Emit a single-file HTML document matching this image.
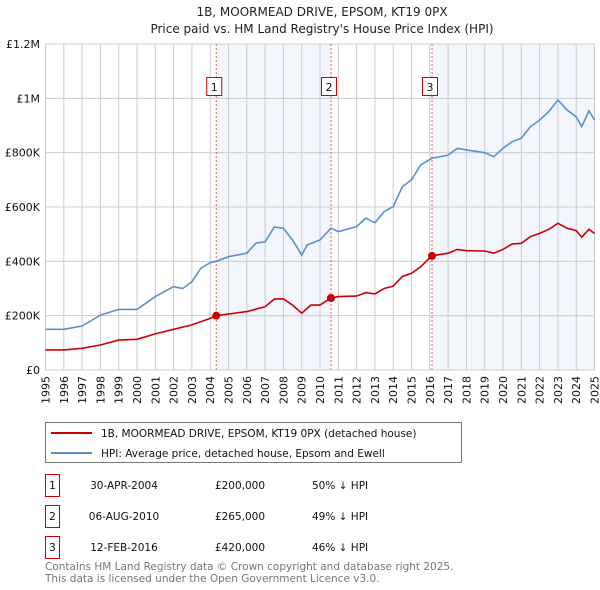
<!DOCTYPE html>
<html><head><meta charset="utf-8"><style>
body{margin:0;background:#fff;font-family:"Liberation Sans","DejaVu Sans",sans-serif}
svg{display:block}
</style></head><body>
<svg width="600" height="590" xmlns="http://www.w3.org/2000/svg" font-family="DejaVu Sans, Liberation Sans, sans-serif">
<text x="322" y="16" text-anchor="middle" font-size="12" fill="#222">1B, MOORMEAD DRIVE, EPSOM, KT19 0PX</text>
<text x="322" y="33" text-anchor="middle" font-size="12" fill="#222">Price paid vs. HM Land Registry's House Price Index (HPI)</text>
<g id="plot"></g>
<g>
<rect x="45.5" y="422.5" width="416" height="40" fill="#fff" stroke="#777"/>
<line x1="51" y1="433" x2="92" y2="433" stroke="#cc0000" stroke-width="2"/>
<text x="101" y="437" font-size="10.5" fill="#111">1B, MOORMEAD DRIVE, EPSOM, KT19 0PX (detached house)</text>
<line x1="51" y1="453" x2="92" y2="453" stroke="#5b8fd0" stroke-width="2"/>
<text x="101" y="457" font-size="10.5" fill="#111">HPI: Average price, detached house, Epsom and Ewell</text>
</g>
<g font-size="10.5" fill="#111">
<rect x="45.5" y="474.5" width="14" height="22" fill="#fff" stroke="#cc0000"/>
<text x="52.5" y="489" text-anchor="middle">1</text>
<text x="124" y="489" text-anchor="middle">30-APR-2004</text>
<text x="240" y="489" text-anchor="middle">£200,000</text>
<text x="312" y="489">50% ↓ HPI</text>
<rect x="45.5" y="505.5" width="14" height="22" fill="#fff" stroke="#cc0000"/>
<text x="52.5" y="520" text-anchor="middle">2</text>
<text x="124" y="520" text-anchor="middle">06-AUG-2010</text>
<text x="240" y="520" text-anchor="middle">£265,000</text>
<text x="312" y="520">49% ↓ HPI</text>
<rect x="45.5" y="536.5" width="14" height="22" fill="#fff" stroke="#cc0000"/>
<text x="52.5" y="551" text-anchor="middle">3</text>
<text x="124" y="551" text-anchor="middle">12-FEB-2016</text>
<text x="240" y="551" text-anchor="middle">£420,000</text>
<text x="312" y="551">46% ↓ HPI</text>
</g>
<text x="45" y="570" font-size="10.5" fill="#777">Contains HM Land Registry data © Crown copyright and database right 2025.</text>
<text x="45" y="582" font-size="10.5" fill="#777">This data is licensed under the Open Government Licence v3.0.</text>
</svg>
<script>
const hpiYears=[1995,1996,1997,1998,1999,2000,2001,2002,2002.5,2003,2003.5,2004,2004.33,2005,2006,2006.5,2007,2007.5,2008,2008.5,2009,2009.3,2010,2010.6,2011,2012,2012.5,2013,2013.5,2014,2014.5,2015,2015.5,2016.1,2017,2017.5,2018,2019,2019.5,2020,2020.5,2021,2021.5,2022,2022.5,2023,2023.5,2024,2024.3,2024.7,2025];
const hpiValues=[150,150,162,202,223,223,270,307,300,325,375,395,400,417,430,467,472,526,522,478,423,460,479,522,509,528,559,542,583,601,675,700,755,779,791,816,810,800,785,816,840,853,896,920,951,994,957,932,896,954,920];
const redYears=[1995,1996,1997,1998,1999,2000,2001,2002,2003,2004,2004.33,2005,2006,2007,2007.5,2008,2008.5,2009,2009.5,2010,2010.6,2011,2012,2012.5,2013,2013.5,2014,2014.5,2015,2015.5,2016.1,2017,2017.5,2018,2019,2019.5,2020,2020.5,2021,2021.5,2022,2022.5,2023,2023.5,2024,2024.3,2024.7,2025];
const redValues=[74,74,80,92,110,113,133,150,166,190,200,206,215,233,261,262,239,209,239,239,265,270,272,285,280,300,309,344,356,380,420,430,444,439,438,430,444,464,466,491,503,518,540,522,513,489,518,503];
const saleYears=[2004.33,2010.6,2016.12];
const saleValues=[200,265,420];
const saleLabels=["1","2","3"];
const yTicks=[0,200,400,600,800,1000,1200];
const yTickLabels=["£0","£200K","£400K","£600K","£800K","£1M","£1.2M"];
const xTicks=[1995,1996,1997,1998,1999,2000,2001,2002,2003,2004,2005,2006,2007,2008,2009,2010,2011,2012,2013,2014,2015,2016,2017,2018,2019,2020,2021,2022,2023,2024,2025];

const L=45.5,R=594.5,T=44,B=370;
const X=y=>L+(y-1995)/30*(R-L);
const Y=v=>B-v/1200*(B-T);
const NS="http://www.w3.org/2000/svg";
const g=document.getElementById('plot');
function mk(t,a,p){const e=document.createElementNS(NS,t);for(const k in a)e.setAttribute(k,a[k]);(p||g).appendChild(e);return e;}
let s1=mk('rect',{x:X(saleYears[0]),y:T,width:X(saleYears[1])-X(saleYears[0]),height:B-T,fill:'#f3f6fd'});


let s2=mk('rect',{x:X(saleYears[2]),y:T,width:R-X(saleYears[2]),height:B-T,fill:'#f3f6fd'});


xTicks.forEach(y=>{let l=mk('line',{x1:X(y),x2:X(y),y1:T,y2:B,stroke:'#ccc','stroke-width':1});


let t=mk('text',{x:0,y:0,'font-size':11,fill:'#111','text-anchor':'end',transform:`translate(${X(y)+4},376) rotate(-90)`});
t.textContent=y;

});
yTicks.forEach((v,i)=>{let l=mk('line',{x1:L,x2:R,y1:Y(v),y2:Y(v),stroke:'#ccc','stroke-width':1});


let t=mk('text',{x:40,y:Y(v)+4,'font-size':11,fill:'#111','text-anchor':'end'});
t.textContent=yTickLabels[i];

});
saleYears.forEach((y,i)=>{let l=mk('line',{x1:X(y),x2:X(y),y1:T,y2:B,stroke:'#ee5555','stroke-width':1,'stroke-dasharray':'2,2'});


let r=mk('rect',{x:X(y)-9.5,y:77.5,width:15,height:18,fill:'#fff',stroke:'#cc0000'});


let t=mk('text',{x:X(y)-2,y:91,'font-size':11,fill:'#111','text-anchor':'middle'});
t.textContent=saleLabels[i];

});
function path(xs,vs){return xs.map((x,i)=>(i?'L':'M')+X(x).toFixed(1)+','+Y(vs[i]).toFixed(1)).join('');}
let hp=mk('path',{d:path(hpiYears,hpiValues),fill:'none',stroke:'#5b8fd0','stroke-width':1.6});


let rp=mk('path',{d:path(redYears,redValues),fill:'none',stroke:'#cc0000','stroke-width':1.6});


saleYears.forEach((y,i)=>{let c=mk('circle',{cx:X(y),cy:Y(saleValues[i]),r:4,fill:'#cc0000'});

});
let ax=mk('line',{x1:L,x2:R,y1:B,y2:B,stroke:'#ccc'});


</script>
</body></html>
